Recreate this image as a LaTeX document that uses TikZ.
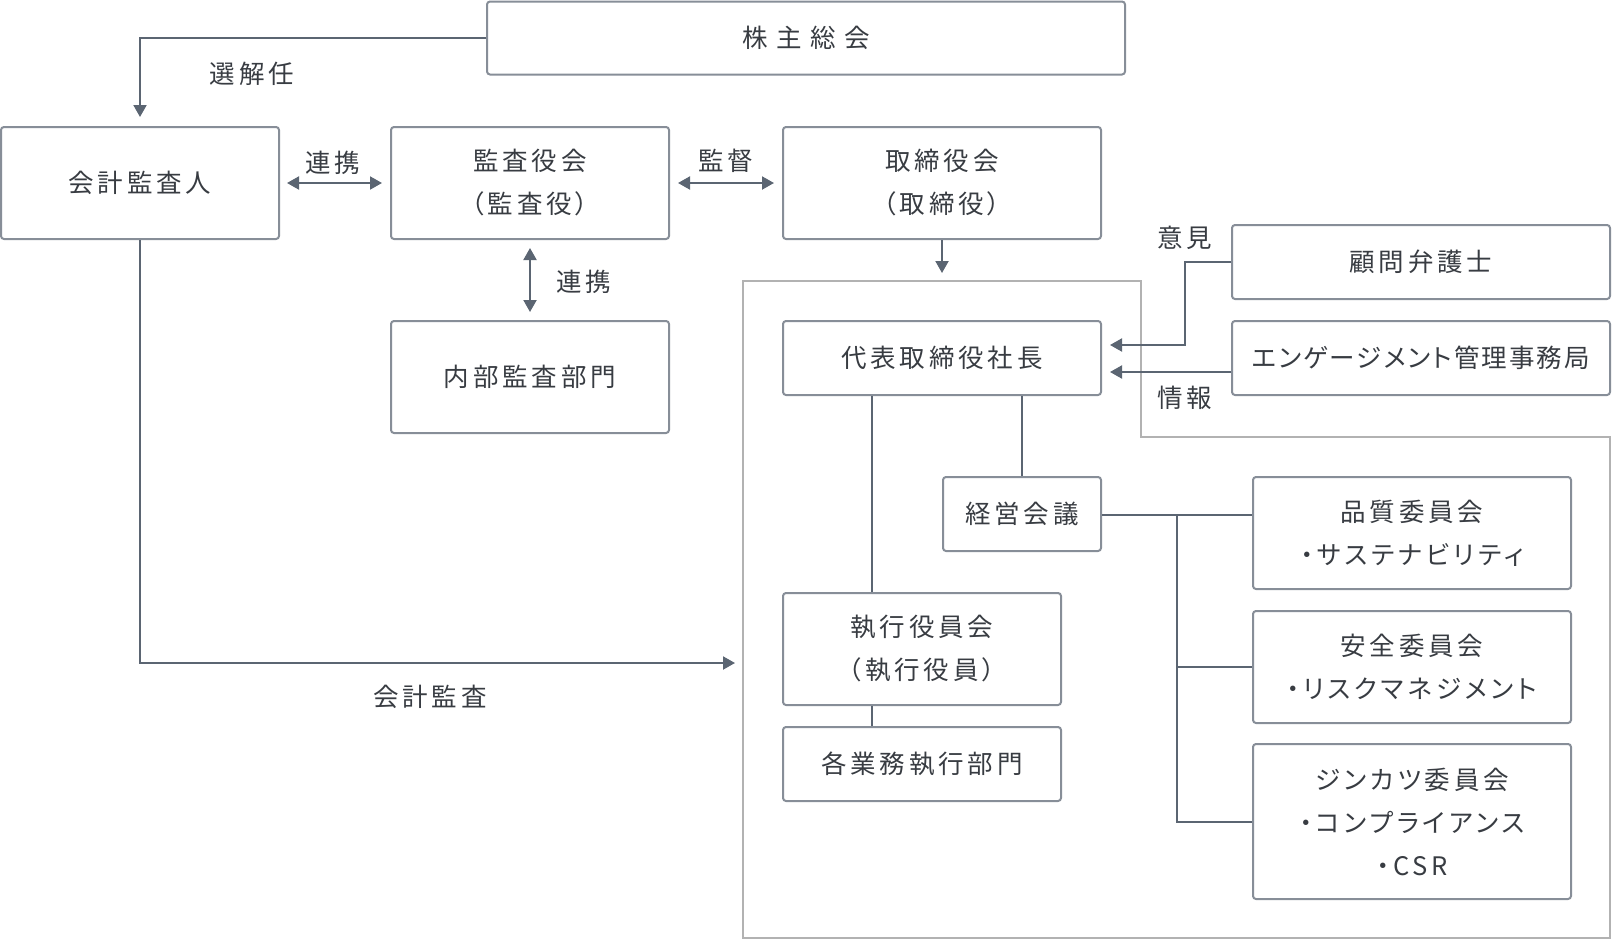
\documentclass[tikz,border=0pt]{standalone}
\usepackage{fontspec}
\setmainfont{Noto Sans CJK JP}[LetterSpace=15,RawFeature=+palt]
\usetikzlibrary{arrows.meta,calc}
\definecolor{boxc}{HTML}{878E98}
\definecolor{linec}{HTML}{5B6572}
\definecolor{outc}{HTML}{B2B2B2}
\definecolor{txtc}{HTML}{383C42}
\tikzset{
  box/.style={draw=boxc,line width=2pt,rounded corners=3pt,fill=white,align=center,inner sep=0pt,text=txtc,font=\fontsize{25.5}{43}\selectfont},
  lbl/.style={text=txtc,inner sep=0pt,font=\fontsize{25.5}{43}\selectfont},
  conn/.style={draw=linec,line width=2pt},
  arr/.style={conn,-{Triangle[length=12pt,width=13pt]}},
  darr/.style={conn,{Triangle[length=12pt,width=13pt]}-{Triangle[length=12pt,width=13pt]}},
}
\begin{document}
\begin{tikzpicture}[x=1pt,y=-1pt]
\useasboundingbox (0,0) rectangle (1612,940);
% outline of execution area
\draw[draw=outc,line width=2pt] (743,281) -- (1141,281) -- (1141,437) -- (1610,437) -- (1610,938) -- (743,938) -- cycle;
\coordinate (otop) at (942,281);
\coordinate (oleft) at (743,663);
% boxes
\node[box,minimum width=638,minimum height=73] (kabu) at (806,38) {株\hspace{8.5pt}主\hspace{8.5pt}総\hspace{8.5pt}会};
\node[box,minimum width=278,minimum height=112] (kaikei) at (140,183) {会計監査人};
\node[box,minimum width=278,minimum height=112] (kansa) at (530,183) {監査役会\\（監査役）};
\node[box,minimum width=318,minimum height=112] (tori) at (942,183) {取締役会\\（取締役）};
\node[box,minimum width=278,minimum height=112] (naibu) at (530,377) {内部監査部門};
\node[box,minimum width=318,minimum height=74] (daihyo) at (942,358) {代表取締役社長};
\node[box,minimum width=378,minimum height=74] (komon) at (1421,262) {顧問弁護士};
\node[box,minimum width=378,minimum height=74] (engage) at (1421,358) {\addfontfeature{LetterSpace=8}エンゲージメント管理事務局};
\node[box,minimum width=158,minimum height=74] (keiei) at (1022,514) {経営会議};
\node[box,minimum width=318,minimum height=112] (hin) at (1412,533) {品質委員会\\・サステナビリティ};
\node[box,minimum width=318,minimum height=112] (anzen) at (1412,667) {安全委員会\\・リスクマネジメント};
\node[box,minimum width=318,minimum height=155] (jin) at (1412,821.5) {ジンカツ委員会\\・コンプライアンス\\・CSR};
\node[box,minimum width=278,minimum height=112] (shikko) at (922,649) {執行役員会\\（執行役員）};
\node[box,minimum width=278,minimum height=74] (kakugyo) at (922,764) {各業務執行部門};
% labels
\node[lbl] (l1) at (252,74) {選解任};
\node[lbl] (l2) at (333,163) {連携};
\node[lbl] (l3) at (726,161) {監督};
\node[lbl] (l4) at (584,282) {連携};
\node[lbl] (l5) at (1185,238) {意見};
\node[lbl] (l6) at (1185,398) {情報};
\node[lbl] (l7) at (430,697) {会計監査};
% connectors
\draw[arr,shorten >=9pt] (kabu.west) -| (kaikei.north);
\draw[darr,shorten >=8pt,shorten <=7pt] (kaikei.east) -- (kansa.west);
\draw[darr,shorten >=8pt,shorten <=8pt] (kansa.east) -- (tori.west);
\draw[darr,shorten >=8pt,shorten <=8pt] (kansa.south) -- (naibu.north);
\draw[arr,shorten >=8pt] (tori.south) -- (otop);
\draw[arr,shorten >=8pt] (kaikei.south) |- (oleft);
\draw[arr,shorten >=8pt] (komon.west) -- ++(-46,0) |- ($(daihyo.east)+(0,-13)$);
\draw[arr,shorten >=8pt] ($(engage.west)+(0,14)$) -- ($(daihyo.east)+(0,14)$);
\draw[conn] ($(daihyo.south)+(-70,0)$) -- ($(shikko.north)+(-50,0)$);
\draw[conn] (keiei.north |- daihyo.south) -- (keiei.north);
\draw[conn] ($(shikko.south)+(-50,0)$) -- ($(kakugyo.north)+(-50,0)$);
\coordinate (bus) at (1177,515);
\draw[conn] ($(keiei.east)+(0,1)$) -- ($(keiei.east -| hin.west)+(0,1)$);
\draw[conn] (bus) |- (jin.west);
\draw[conn] (bus) |- (anzen.west);
\end{tikzpicture}
\end{document}
